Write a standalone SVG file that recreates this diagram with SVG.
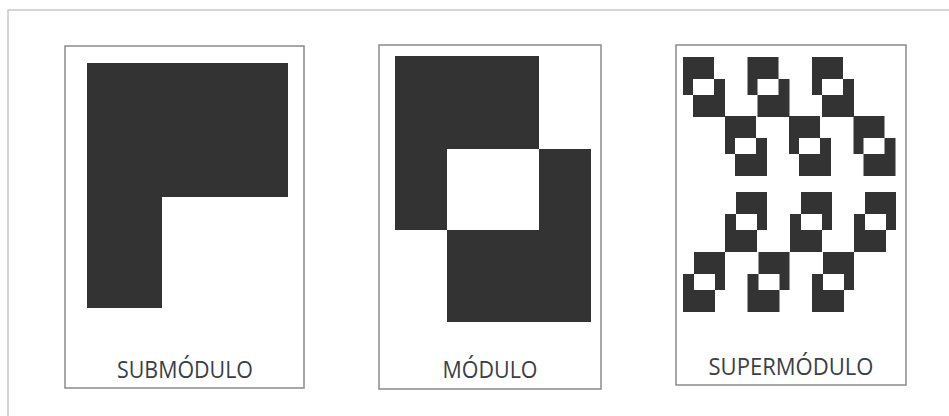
<svg xmlns="http://www.w3.org/2000/svg" xmlns:xlink="http://www.w3.org/1999/xlink" width="949" height="416" viewBox="0 0 949 416">
  <style>
    .frame { fill: none; stroke: #c8c8c8; stroke-width: 1.5; }
    .panel { fill: #ffffff; stroke: #8a8a8a; stroke-width: 1.5; }
    .ink { fill: #333333; }
    .label { font-family: "Open Sans", "Liberation Sans", Arial, sans-serif; font-size: 23px; fill: #3a3f46; text-anchor: middle; }
  </style>
  <defs>
    <g id="mini">
      <path class="ink" d="M0,0 H31 V22 H10 V38 H0 Z"/>
      <path class="ink" d="M42,60 H10 V38 H31 V22 H42 Z"/>
    </g>
  </defs>
  <rect x="0" y="0" width="949" height="416" fill="#ffffff"/>
  <rect class="frame" x="8" y="10" width="960" height="420"/>

  <g id="submodulo">
    <rect class="panel" x="65" y="46" width="239" height="342"/>
    <path class="ink" d="M87,63 H288 V197 H162 V308 H87 Z"/>
    <text class="label" x="185" y="378" textLength="136" lengthAdjust="spacingAndGlyphs">SUBMÓDULO</text>
  </g>

  <g id="modulo">
    <rect class="panel" x="379" y="45" width="222" height="344"/>
    <path class="ink" d="M395,56 H539 V149 H447 V230 H395 Z"/>
    <path class="ink" d="M591,322 H447 V230 H539 V149 H591 Z"/>
    <text class="label" x="490" y="378" textLength="95" lengthAdjust="spacingAndGlyphs">MÓDULO</text>
  </g>

  <g id="supermodulo">
    <rect class="panel" x="676" y="45" width="230" height="340"/>
    <use xlink:href="#mini" href="#mini" transform="translate(683,57)"/>
    <use xlink:href="#mini" href="#mini" transform="translate(747.5,57)"/>
    <use xlink:href="#mini" href="#mini" transform="translate(812,57)"/>
    <use xlink:href="#mini" href="#mini" transform="translate(725,116)"/>
    <use xlink:href="#mini" href="#mini" transform="translate(789,116)"/>
    <use xlink:href="#mini" href="#mini" transform="translate(853.5,116)"/>
    <use xlink:href="#mini" href="#mini" transform="translate(767,192) scale(-1,1)"/>
    <use xlink:href="#mini" href="#mini" transform="translate(832,192) scale(-1,1)"/>
    <use xlink:href="#mini" href="#mini" transform="translate(896,192) scale(-1,1)"/>
    <use xlink:href="#mini" href="#mini" transform="translate(725,252) scale(-1,1)"/>
    <use xlink:href="#mini" href="#mini" transform="translate(789.5,252) scale(-1,1)"/>
    <use xlink:href="#mini" href="#mini" transform="translate(854,252) scale(-1,1)"/>
    <text class="label" x="791" y="375" textLength="165" lengthAdjust="spacingAndGlyphs">SUPERMÓDULO</text>
  </g>
</svg>
